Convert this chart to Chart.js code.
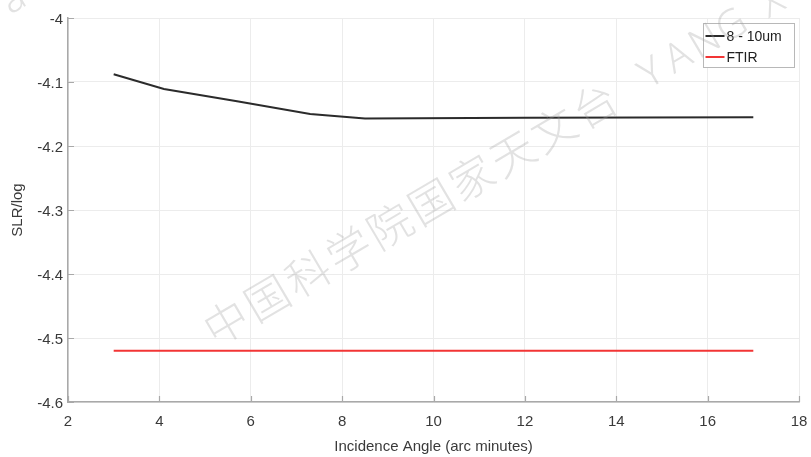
<!DOCTYPE html>
<html>
<head>
<meta charset="utf-8">
<script src="https://cdn.jsdelivr.net/npm/chart.js@4.4.1/dist/chart.umd.min.js"></script>
<style>
  html, body { margin: 0; padding: 0; background: #ffffff; }
  #wrap { width: 811px; height: 457px; }
</style>
</head>
<body>
<div id="wrap"><canvas id="c" width="811" height="457"></canvas></div>
<script>
// Incidence angle (arc minutes) and stray-light ratio (log10)
const angles = [3, 4.1, 5.7, 7.3, 8.5, 12, 17];
const slr8to10um = [-4.088, -4.111, -4.130, -4.150, -4.157, -4.156, -4.155];
const ftirAngles = [3, 17];
const slrFtir = [-4.52, -4.52];

const xTicks = [2, 4, 6, 8, 10, 12, 14, 16, 18];
const yTicks = [-4.6, -4.5, -4.4, -4.3, -4.2, -4.1, -4];

const seriesNames = ['8 - 10um', 'FTIR'];
const seriesColors = ['#2b2b2b', '#f23535'];

const watermarkCn = '中国科学院国家天文台';
const watermarkEn = 'YANG Xia';

const toPoints = (xs, ys) => xs.map((x, i) => ({ x: x, y: ys[i] }));

const FONT = 'Liberation Sans, Arial, sans-serif';
const AXIS_COLOR = '#a9a9a9';
const TEXT_COLOR = '#3a3a3a';

// Inward tick marks along the bottom and left axes
const innerTicks = {
  id: 'innerTicks',
  afterDatasetsDraw(chart) {
    const { ctx, chartArea: a, scales: { x, y } } = chart;
    ctx.save();
    ctx.strokeStyle = AXIS_COLOR;
    ctx.lineWidth = 1.2;
    ctx.beginPath();
    xTicks.forEach(v => {
      const px = Math.round(x.getPixelForValue(v)) + 0.5;
      ctx.moveTo(px, a.bottom);
      ctx.lineTo(px, a.bottom - 6);
    });
    yTicks.forEach(v => {
      const py = Math.round(y.getPixelForValue(v)) + 0.5;
      ctx.moveTo(a.left, py);
      ctx.lineTo(a.left + 6, py);
    });
    ctx.stroke();
    ctx.restore();
  }
};

// Boxed legend in the upper-right corner of the plot
const boxLegend = {
  id: 'boxLegend',
  afterDatasetsDraw(chart) {
    const { ctx, chartArea: a } = chart;
    const w = 91, h = 44;
    const left = a.right - w - 4.5, top = a.top + 5.5;
    ctx.save();
    ctx.fillStyle = '#ffffff';
    ctx.strokeStyle = '#b8b8b8';
    ctx.lineWidth = 1;
    ctx.fillRect(left, top, w, h);
    ctx.strokeRect(left, top, w, h);
    ctx.font = '14px ' + FONT;
    ctx.textBaseline = 'middle';
    ctx.textAlign = 'left';
    chart.data.datasets.forEach((ds, i) => {
      const cy = top + 12.5 + i * 21;
      ctx.strokeStyle = ds.borderColor;
      ctx.lineWidth = 2;
      ctx.beginPath();
      ctx.moveTo(left + 2, cy);
      ctx.lineTo(left + 21, cy);
      ctx.stroke();
      ctx.fillStyle = '#202020';
      ctx.fillText(ds.label, left + 23, cy + 1);
    });
    ctx.restore();
  }
};

// Faint diagonal watermark text
const watermark = {
  id: 'watermark',
  afterDraw(chart) {
    const { ctx } = chart;
    const ang = -30.5 * Math.PI / 180;
    const drawRun = (text, x0, y0, stepLen) => {
      let d = 0;
      for (const ch of text) {
        const cx = x0 + d * Math.cos(ang);
        const cy = y0 + d * Math.sin(ang);
        ctx.save();
        ctx.translate(cx, cy);
        ctx.rotate(ang);
        ctx.fillText(ch, 0, 0);
        ctx.restore();
        d += ch === ' ' ? stepLen * 0.5 : stepLen;
      }
    };
    ctx.save();
    ctx.fillStyle = 'rgba(160,160,160,0.3)';
    ctx.textAlign = 'center';
    ctx.textBaseline = 'middle';
    ctx.font = '300 44px "Noto Sans CJK SC", sans-serif';
    drawRun(watermarkCn, 226, 322, 47.5);
    ctx.font = '300 40px "Noto Sans", sans-serif';
    drawRun(watermarkEn, 652, 74, 31);
    drawRun(watermarkEn, -160, 102, 31);
    ctx.restore();
  }
};

new Chart(document.getElementById('c'), {
  type: 'scatter',
  data: {
    datasets: [
      {
        label: seriesNames[0],
        data: toPoints(angles, slr8to10um),
        showLine: true,
        borderColor: seriesColors[0],
        backgroundColor: seriesColors[0],
        borderWidth: 2,
        pointRadius: 0,
        tension: 0
      },
      {
        label: seriesNames[1],
        data: toPoints(ftirAngles, slrFtir),
        showLine: true,
        borderColor: seriesColors[1],
        backgroundColor: seriesColors[1],
        borderWidth: 2,
        pointRadius: 0,
        tension: 0
      }
    ]
  },
  options: {
    responsive: false,
    animation: false,
    layout: { padding: { top: 18, right: 12, left: 0, bottom: 0 } },
    plugins: {
      legend: { display: false },
      tooltip: { enabled: false }
    },
    scales: {
      x: {
        type: 'linear',
        min: 2,
        max: 18,
        afterBuildTicks: s => { s.ticks = xTicks.map(v => ({ value: v })); },
        afterFit: s => { s.height = 55; s.paddingLeft = 0; s.paddingRight = 0; },
        grid: { color: '#ececec', lineWidth: 1, drawTicks: false },
        border: { color: AXIS_COLOR, width: 1.5 },
        ticks: {
          padding: 11,
          color: TEXT_COLOR,
          font: { family: FONT, size: 15 },
          maxRotation: 0,
          callback: v => String(v)
        },
        title: {
          display: true,
          text: 'Incidence Angle (arc minutes)',
          color: TEXT_COLOR,
          font: { family: FONT, size: 15 },
          padding: { top: 0, bottom: 1 }
        }
      },
      y: {
        type: 'linear',
        min: -4.6,
        max: -4,
        afterBuildTicks: s => { s.ticks = yTicks.map(v => ({ value: v })); },
        afterFit: s => { s.width = 68; s.paddingTop = 0; s.paddingBottom = 0; },
        grid: { color: '#ececec', lineWidth: 1, drawTicks: false },
        border: { color: AXIS_COLOR, width: 1.5 },
        ticks: {
          padding: 5,
          labelOffset: 2,
          color: TEXT_COLOR,
          font: { family: FONT, size: 15 },
          callback: v => String(Number(v.toFixed(1)))
        },
        title: {
          display: true,
          text: 'SLR/log',
          color: TEXT_COLOR,
          font: { family: FONT, size: 15 },
          padding: { top: 9, bottom: 0 }
        }
      }
    }
  },
  plugins: [innerTicks, boxLegend, watermark]
});
</script>
</body>
</html>
